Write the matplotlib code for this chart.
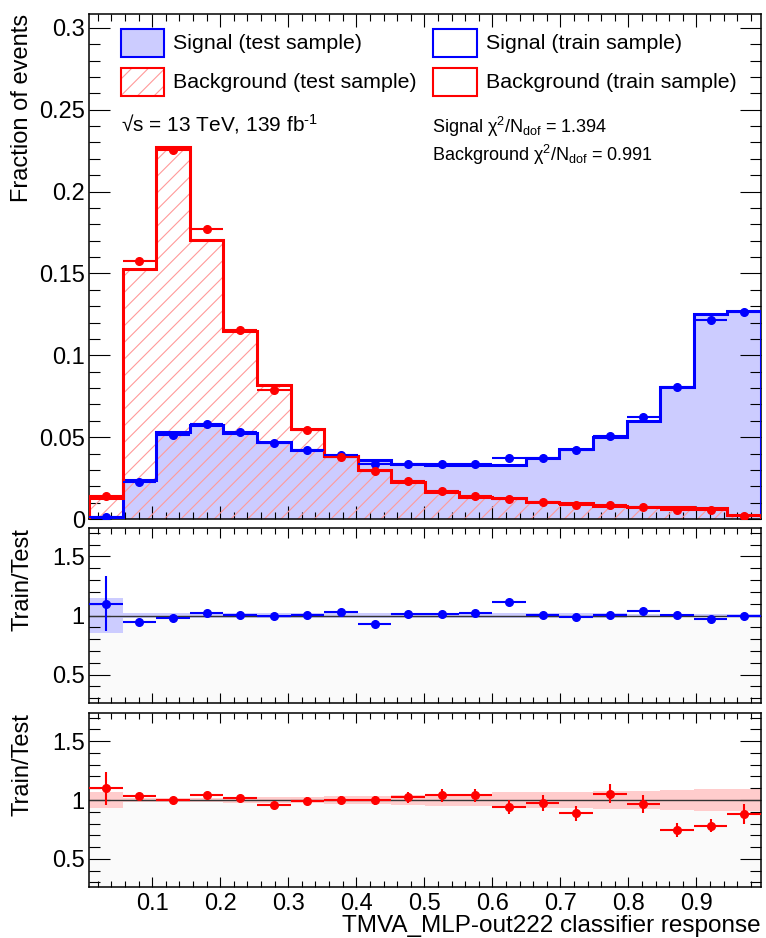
"""
TMVA overtraining check: classifier response for signal/background,
test vs train samples, with train/test ratio panels.
"""
import numpy as np
import matplotlib
matplotlib.use('Agg')
import matplotlib.pyplot as plt
from matplotlib.ticker import MultipleLocator, FuncFormatter
import matplotlib.patches as mpatches

plt.rcParams['font.family'] = ['Liberation Sans', 'DejaVu Sans']
plt.rcParams['mathtext.fontset'] = 'custom'
plt.rcParams['mathtext.rm'] = 'Liberation Sans'
plt.rcParams['mathtext.it'] = 'Liberation Sans:italic'
plt.rcParams['hatch.linewidth'] = 0.8

# binning of the classifier response (20 bins)
x_lo, x_hi = 0.007, 0.995
n_bins = 20

# signal, test sample (filled histogram) and train sample (points)
sig_test = [0.0010, 0.0237, 0.0529, 0.0575, 0.0525, 0.0468, 0.0420, 0.0383, 0.0363, 0.0333,
            0.0332, 0.0328, 0.0332, 0.0373, 0.0430, 0.0500, 0.0596, 0.0804, 0.1253, 0.1271]
sig_train = [0.0011, 0.0224, 0.0516, 0.0583, 0.0529, 0.0466, 0.0421, 0.0393, 0.0338, 0.0338,
             0.0336, 0.0335, 0.0370, 0.0375, 0.0424, 0.0505, 0.0621, 0.0809, 0.1217, 0.1264]

# background, test sample (hatched histogram) and train sample (points)
bkg_test = [0.0128, 0.1527, 0.2270, 0.1705, 0.1150, 0.0820, 0.0550, 0.0383, 0.0298, 0.0229,
            0.0166, 0.0135, 0.0129, 0.0105, 0.0095, 0.0082, 0.0075, 0.0071, 0.0069, 0.0024]
bkg_train = [0.0140, 0.1575, 0.2255, 0.1770, 0.1155, 0.0785, 0.0545, 0.0381, 0.0296, 0.0233,
             0.0172, 0.0140, 0.0122, 0.0102, 0.0084, 0.0087, 0.0072, 0.0053, 0.0054, 0.0021]

# train/test ratios, their errors and the test-sample uncertainty band
sig_ratio = [1.100, 0.946, 0.975, 1.017, 1.008, 0.997, 1.003, 1.028, 0.932, 1.014,
             1.011, 1.020, 1.115, 1.006, 0.986, 1.003, 1.042, 1.006, 0.971, 0.994]
sig_ratio_err = [0.235, 0.012, 0.010, 0.008, 0.008, 0.008, 0.008, 0.009, 0.009, 0.009,
                 0.009, 0.009, 0.009, 0.009, 0.008, 0.008, 0.007, 0.006, 0.005, 0.005]
sig_band = [0.150, 0.025, 0.020, 0.018, 0.018, 0.020, 0.020, 0.020, 0.022, 0.022,
            0.022, 0.022, 0.022, 0.020, 0.020, 0.018, 0.016, 0.014, 0.012, 0.012]

bkg_ratio = [1.100, 1.031, 1.000, 1.042, 1.017, 0.960, 0.994, 1.003, 0.997, 1.022,
             1.040, 1.040, 0.940, 0.974, 0.886, 1.054, 0.966, 0.748, 0.780, 0.880]
bkg_ratio_err = [0.140, 0.012, 0.010, 0.010, 0.012, 0.015, 0.030, 0.035, 0.040, 0.047,
                 0.055, 0.055, 0.060, 0.065, 0.065, 0.080, 0.075, 0.060, 0.055, 0.085]
bkg_band = [0.070, 0.020, 0.020, 0.020, 0.022, 0.025, 0.028, 0.032, 0.038, 0.045,
            0.055, 0.055, 0.065, 0.065, 0.070, 0.075, 0.075, 0.085, 0.090, 0.090]

sig_chi2 = 1.394
bkg_chi2 = 0.991

BLUE = '#0000ff'
RED = '#ff0000'
BLUE_FILL = '#ccccff'
RED_HATCH = '#ff9a9a'
RED_BAND = '#ffcccc'

edges = np.linspace(x_lo, x_hi, n_bins + 1)
centers = 0.5 * (edges[:-1] + edges[1:])
half_w = 0.5 * (edges[1] - edges[0])

W, H = 766, 938
fig = plt.figure(figsize=(W / 100, H / 100), dpi=100)


def px_axes(left, top, right, bottom):
    return fig.add_axes([left / W, 1 - bottom / H, (right - left) / W, (bottom - top) / H])


ax = px_axes(89, 14, 761, 519)
ax_s = px_axes(89, 528, 761, 703)
ax_b = px_axes(89, 713, 761, 887)


def style_axis(a, ymajor, yminor, xlen=(9.5, 5), ylen=(15, 8)):
    a.set_xlim(x_lo, x_hi)
    a.xaxis.set_major_locator(MultipleLocator(0.1))
    a.xaxis.set_minor_locator(MultipleLocator(0.02))
    a.yaxis.set_major_locator(MultipleLocator(ymajor))
    a.yaxis.set_minor_locator(MultipleLocator(yminor))
    a.yaxis.set_major_formatter(FuncFormatter(lambda v, p: '%g' % round(v, 4)))
    a.xaxis.set_major_formatter(FuncFormatter(lambda v, p: '%g' % round(v, 4)))
    a.tick_params(axis='both', which='both', direction='in', top=True, right=True,
                  labelsize=17, width=0.8, color='black')
    a.tick_params(axis='x', which='major', length=xlen[0], pad=4)
    a.tick_params(axis='x', which='minor', length=xlen[1])
    a.tick_params(axis='y', which='major', length=ylen[0], pad=3)
    a.tick_params(axis='y', which='minor', length=ylen[1])
    for s in a.spines.values():
        s.set_linewidth(1.1)


# ---- top panel: response distributions ----
ax.stairs(sig_test, edges, fill=True, facecolor=BLUE_FILL, edgecolor='none', zorder=1)
ax.stairs(bkg_test, edges, fill=True, facecolor='none', edgecolor=RED_HATCH,
          hatch='//', linewidth=0, zorder=2)
ax.stairs(sig_test, edges, color=BLUE, linewidth=2.2, zorder=3)
ax.stairs(bkg_test, edges, color=RED, linewidth=2.2, zorder=3)

sig_train_err = np.array(sig_train) * np.array(sig_ratio_err) / np.array(sig_ratio)
bkg_train_err = np.array(bkg_train) * np.array(bkg_ratio_err) / np.array(bkg_ratio)
ax.errorbar(centers, sig_train, xerr=half_w, yerr=sig_train_err, fmt='o', color=BLUE,
            markersize=5.5, elinewidth=1.5, capsize=0, zorder=4)
ax.errorbar(centers, bkg_train, xerr=half_w, yerr=bkg_train_err, fmt='o', color=RED,
            markersize=5.5, elinewidth=1.5, capsize=0, zorder=4)

ax.set_ylim(0, 0.3084)
style_axis(ax, 0.05, 0.01, xlen=(9.5, 5), ylen=(15, 8))
ax.tick_params(axis='x', labelbottom=False)
ax.set_ylabel('Fraction of events', fontsize=17, loc='top')
ax.yaxis.set_label_coords(-0.083, 1.0)


# legend drawn by hand in axes coordinates (pixel layout of the original)
def to_ax(px, py):
    return (px - 89) / 672.0, (519 - py) / 505.0


def legend_entry(x0, y0, label, kind):
    x1, y1 = x0 + 43.5, y0 + 27.5
    (ax0, ay1), (ax1, ay0) = to_ax(x0, y0), to_ax(x1, y1)
    w, h = ax1 - ax0, ay1 - ay0
    if kind == 'sig_test':
        ax.add_patch(mpatches.Rectangle((ax0, ay0), w, h, transform=ax.transAxes,
                                        facecolor=BLUE_FILL, edgecolor=BLUE, linewidth=1.5,
                                        clip_on=False, zorder=6))
    elif kind == 'bkg_test':
        ax.add_patch(mpatches.Rectangle((ax0, ay0), w, h, transform=ax.transAxes,
                                        facecolor='white', edgecolor=RED_HATCH, hatch='//',
                                        linewidth=0, clip_on=False, zorder=6))
        ax.add_patch(mpatches.Rectangle((ax0, ay0), w, h, transform=ax.transAxes,
                                        facecolor='none', edgecolor=RED, linewidth=1.5,
                                        clip_on=False, zorder=7))
    else:
        col = BLUE if kind == 'sig_train' else RED
        ax.add_patch(mpatches.Rectangle((ax0, ay0), w, h, transform=ax.transAxes,
                                        facecolor='white', edgecolor=col, linewidth=1.5,
                                        clip_on=False, zorder=6))
    tx, ty = to_ax(x1 + 9, y0 + 14)
    ax.text(tx, ty, label, transform=ax.transAxes, fontsize=15.4, va='center', ha='left', zorder=8)


legend_entry(120.7, 29.3, 'Signal (test sample)', 'sig_test')
legend_entry(120.7, 68.3, 'Background (test sample)', 'bkg_test')
legend_entry(433.3, 29.3, 'Signal (train sample)', 'sig_train')
legend_entry(433.3, 68.3, 'Background (train sample)', 'bkg_train')

ax.text(0.048, 0.782, '√s = 13 TeV, 139 fb$^{\\text{-1}}$', transform=ax.transAxes,
        fontsize=15, va='center', ha='left')
ax.text(0.510, 0.777, 'Signal χ$^{\\mathregular{2}}$/N$_{\\mathregular{dof}}$ = %.3f' % sig_chi2,
        transform=ax.transAxes, fontsize=13, va='center', ha='left')
ax.text(0.510, 0.720, 'Background χ$^{\\mathregular{2}}$/N$_{\\mathregular{dof}}$ = %.3f' % bkg_chi2,
        transform=ax.transAxes, fontsize=13, va='center', ha='left')


# ---- ratio panels ----
def ratio_panel(a, ratio, err, band, col, band_col, label_x):
    a.set_ylim(0.26, 1.74)
    a.axhspan(0.26, 1.0, color='#fafafa', linewidth=0, zorder=0)
    a.stairs(np.ones(n_bins) + np.array(band), edges, baseline=np.ones(n_bins) - np.array(band),
             fill=True, facecolor=band_col, edgecolor='none', zorder=1)
    a.axhline(1.0, color='#333333', linewidth=1.0, zorder=2)
    a.errorbar(centers, ratio, xerr=half_w, yerr=err, fmt='o', color=col,
               markersize=5.5, elinewidth=1.5, capsize=0, zorder=3)
    style_axis(a, 0.5, 0.1, xlen=(7, 4), ylen=(15, 8))
    a.set_ylabel('Train/Test', fontsize=17, loc='top')
    a.yaxis.set_label_coords(-0.083, 1.0)
    a.tick_params(axis='x', labelbottom=label_x)


ratio_panel(ax_s, sig_ratio, sig_ratio_err, sig_band, BLUE, BLUE_FILL, False)
ratio_panel(ax_b, bkg_ratio, bkg_ratio_err, bkg_band, RED, RED_BAND, True)
ax_b.set_xlabel('TMVA_MLP-out222 classifier response', fontsize=17.5, loc='right', labelpad=0)

fig.savefig('out.png', dpi=100, facecolor='white')
